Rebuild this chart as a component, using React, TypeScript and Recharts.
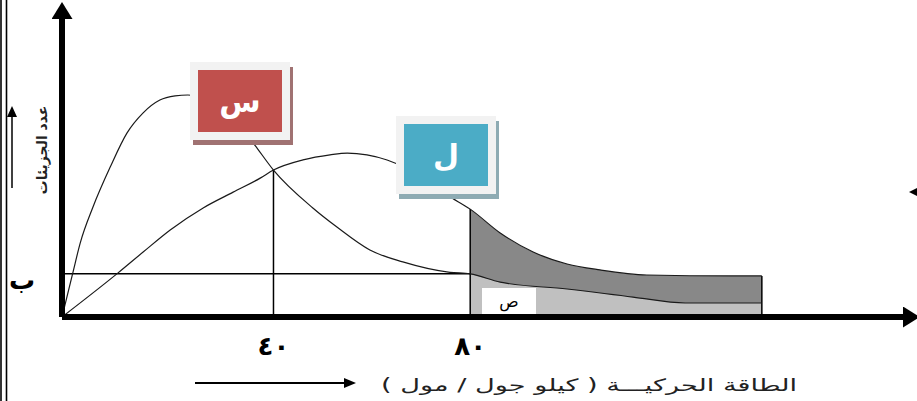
import React from 'react';
import { ComposedChart, Line, Area, XAxis, YAxis, ReferenceLine } from 'recharts';

// منحنى س (درجة حرارة منخفضة)
const sEnergy = [-3, -0.8, 0.7, 3.3, 6.8, 10.2, 13.5, 16.9, 20, 22.6, 25.1, 28.1, 31.2, 33.8, 36.2, 40, 48, 52.9, 59.6, 66.3, 75.9, 80, 86.1, 99.7, 113.1, 123.7, 139.3];
const sCount = [0, 14.8, 24.8, 36.9, 50.3, 61.7, 68.5, 72.8, 74.2, 74.5, 73.8, 71.5, 67.4, 62.8, 57.7, 49.3, 36.6, 30.2, 22.5, 18.5, 15, 14.5, 11.7, 9.4, 6.7, 4.7, 4.7];

// منحنى ل (درجة حرارة مرتفعة)
const lEnergy = [-3, 8.4, 13.5, 19, 25.7, 31.8, 37.3, 40, 46, 51.5, 55, 59, 63.1, 67.8, 71.8, 75.3, 80, 86.1, 92.8, 99.7, 106.4, 115.9, 133.4, 139.3];
const lCount = [0, 14.8, 21.8, 29.2, 36.6, 41.9, 46.6, 49.3, 52.7, 54.4, 55, 54.4, 52.7, 49.3, 45, 40.9, 36.2, 28.2, 21.8, 17.8, 15.8, 14.1, 13.8, 13.8];

const energyTicks = [40, 80];
const crossEnergy = 40;
const activationEnergy = 80;

const sCurve = sEnergy.map((x, i) => ({ x, y: sCount[i] }));
const lCurve = lEnergy.map((x, i) => ({ x, y: lCount[i] }));
const sTail = sCurve.filter((p) => p.x >= activationEnergy);
const lTail = lCurve.filter((p) => p.x >= activationEnergy);

const sAtActivation = sTail[0].y;
const lAtActivation = lTail[0].y;
const crossCount = lCurve.find((p) => p.x === crossEnergy)!.y;
const lastEnergy = lTail[lTail.length - 1].x;
const lastCount = lTail[lTail.length - 1].y;

const arabicFont = '"DejaVu Sans", sans-serif';
const toArabicDigits = (v: number) =>
    String(v).replace(/\d/g, (d) => '٠١٢٣٤٥٦٧٨٩'[Number(d)]);

function EnergyTick({ x, y, payload }: any) {
    return (
        <text
            x={x}
            y={y + 30}
            textAnchor="middle"
            fontFamily={arabicFont}
            fontWeight="bold"
            fontSize={26}
            fill="#000"
        >
            {toArabicDigits(payload.value)}
        </text>
    );
}

function CurveLabel({ left, top, text, color, shadow }: { left: number; top: number; text: string; color: string; shadow: string }) {
    return (
        <div
            style={{
                position: 'absolute',
                left,
                top,
                width: 100,
                height: 78,
                boxSizing: 'border-box',
                padding: 8,
                background: '#f2f2f2',
                boxShadow: `3px 5px 0 ${shadow}`,
            }}
        >
            <div
                style={{
                    width: '100%',
                    height: '100%',
                    background: color,
                    color: '#fff',
                    display: 'flex',
                    alignItems: 'center',
                    justifyContent: 'center',
                    fontFamily: arabicFont,
                    fontWeight: 'bold',
                    fontSize: 30,
                }}
            >
                {text}
            </div>
        </div>
    );
}

export default function App() {
    return (
        <div
            style={{
                position: 'fixed',
                left: 0,
                top: 0,
                width: 917,
                height: 401,
                background: '#fff',
                overflow: 'hidden',
            }}
        >
            <svg width={0} height={0} style={{ position: 'absolute' }}>
                <defs>
                    <marker
                        id="axisArrow"
                        markerUnits="userSpaceOnUse"
                        markerWidth={18}
                        markerHeight={21}
                        refX={0}
                        refY={10.5}
                        orient="auto-start-reverse"
                    >
                        <path d="M0,0 L17,10.5 L0,21 Z" fill="#000" />
                    </marker>
                </defs>
            </svg>

            <ComposedChart width={917} height={401} margin={{ top: 19, right: 14, bottom: 24, left: 60 }}>
                <XAxis
                    type="number"
                    dataKey="x"
                    domain={[-3, 168]}
                    ticks={energyTicks}
                    allowDataOverflow
                    height={60}
                    tickLine={false}
                    tick={<EnergyTick />}
                    axisLine={{ stroke: '#000', strokeWidth: 6, markerEnd: 'url(#axisArrow)' }}
                />
                <YAxis
                    type="number"
                    domain={[0, 100]}
                    width={2}
                    tick={false}
                    tickLine={false}
                    axisLine={{ stroke: '#000', strokeWidth: 6, markerStart: 'url(#axisArrow)' }}
                />
                <Area
                    data={lTail}
                    dataKey="y"
                    type="monotone"
                    fill="#888888"
                    fillOpacity={1}
                    stroke="none"
                    isAnimationActive={false}
                />
                <Area
                    data={sTail}
                    dataKey="y"
                    type="monotone"
                    fill="#c0c0c0"
                    fillOpacity={1}
                    stroke="none"
                    isAnimationActive={false}
                />
                <ReferenceLine
                    segment={[{ x: -3, y: sAtActivation }, { x: activationEnergy, y: sAtActivation }]}
                    stroke="#000"
                    strokeWidth={1.5}
                />
                <ReferenceLine
                    segment={[{ x: crossEnergy, y: 0 }, { x: crossEnergy, y: crossCount }]}
                    stroke="#000"
                    strokeWidth={1.5}
                />
                <ReferenceLine
                    segment={[{ x: activationEnergy, y: 0 }, { x: activationEnergy, y: lAtActivation }]}
                    stroke="#000"
                    strokeWidth={1.5}
                />
                <ReferenceLine
                    segment={[{ x: lastEnergy, y: 0 }, { x: lastEnergy, y: lastCount }]}
                    stroke="#000"
                    strokeWidth={1.5}
                />
                <Line
                    data={sCurve}
                    dataKey="y"
                    type="monotone"
                    stroke="#1a1a1a"
                    strokeWidth={1.2}
                    dot={false}
                    isAnimationActive={false}
                />
                <Line
                    data={lCurve}
                    dataKey="y"
                    type="monotone"
                    stroke="#1a1a1a"
                    strokeWidth={1.2}
                    dot={false}
                    isAnimationActive={false}
                />
            </ComposedChart>

            <CurveLabel left={190} top={62} text="س" color="#c0504d" shadow="#a07272" />
            <CurveLabel left={396} top={116} text="ل" color="#4bacc6" shadow="#8eabb3" />

            <div
                style={{
                    position: 'absolute',
                    left: 482,
                    top: 288,
                    width: 54,
                    height: 26,
                    background: '#fff',
                    display: 'flex',
                    alignItems: 'center',
                    justifyContent: 'center',
                    fontFamily: arabicFont,
                    fontSize: 16,
                    color: '#000',
                }}
            >
                ص
            </div>

            <svg
                width={917}
                height={401}
                style={{ position: 'absolute', left: 0, top: 0, pointerEvents: 'none' }}
            >
                <line x1={1} y1={0} x2={1} y2={401} stroke="#000" strokeWidth={1.6} />
                <line x1={6.5} y1={0} x2={6.5} y2={401} stroke="#000" strokeWidth={1.6} />

                <line x1={12} y1={188} x2={12} y2={115} stroke="#000" strokeWidth={1.5} />
                <path d="M7,117 L12,106 L17,117 Z" fill="#000" />
                <text
                    transform="translate(42,150) rotate(-90)"
                    textAnchor="middle"
                    dominantBaseline="central"
                    fontFamily={arabicFont}
                    fontWeight="bold"
                    fontSize={14}
                    fill="#222"
                >
                    عدد الجزيئات
                </text>

                <text x={22} y={289} textAnchor="middle" fontFamily={arabicFont} fontWeight="bold" fontSize={26} fill="#000">
                    ب
                </text>

                <line x1={195} y1={383} x2={346} y2={383} stroke="#000" strokeWidth={2} />
                <path d="M344,378 L356,383 L344,388 Z" fill="#000" />
                <text
                    transform="translate(589,385) scale(1.6,1)"
                    textAnchor="middle"
                    dominantBaseline="central"
                    fontFamily={arabicFont}
                    fontSize={17}
                    fill="#222"
                >
                    الطاقة الحركيـــة ( كيلو جول / مول )
                </text>

                <line x1={912} y1={192} x2={917} y2={192} stroke="#000" strokeWidth={1.5} />
                <path d="M917,188 L909,192 L917,196 Z" fill="#000" />
            </svg>
        </div>
    );
}
